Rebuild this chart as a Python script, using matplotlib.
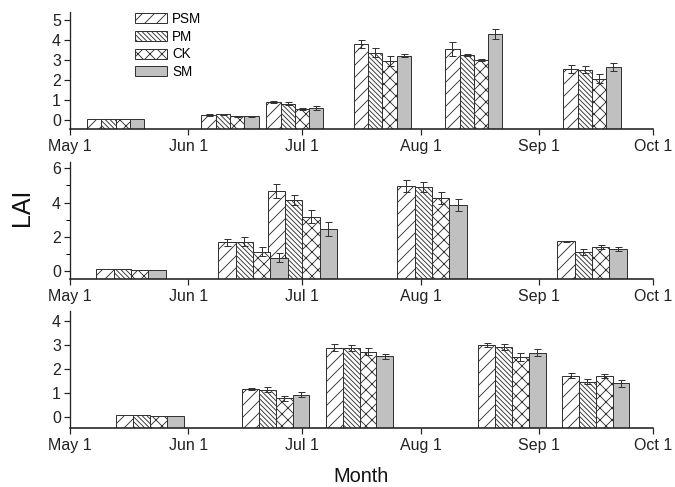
import datetime
import numpy as np
import matplotlib
matplotlib.use('Agg')
import matplotlib.pyplot as plt
import matplotlib.dates as mdates

plt.rcParams['font.family'] = ['Liberation Sans', 'DejaVu Sans']
plt.rcParams['hatch.linewidth'] = 0.9

YEAR = 2000
treatments = ['PSM', 'PM', 'CK', 'SM']
hatches = ['//', '\\\\\\\\\\', 'xx', '']
faces = ['white', 'white', 'white', '#c0c0c0']

# panel 1 (top)
dates_1 = ['05-13', '06-12', '06-29', '07-22', '08-15', '09-15']
lai_1 = {
    'PSM': [0.05, 0.25, 0.90, 3.82, 3.58, 2.58],
    'PM':  [0.05, 0.28, 0.82, 3.37, 3.28, 2.52],
    'CK':  [0.05, 0.18, 0.57, 2.95, 3.00, 2.07],
    'SM':  [0.05, 0.18, 0.62, 3.23, 4.32, 2.68],
}
err_1 = {
    'PSM': [0.0, 0.03, 0.03, 0.20, 0.35, 0.20],
    'PM':  [0.0, 0.03, 0.06, 0.22, 0.05, 0.18],
    'CK':  [0.0, 0.02, 0.05, 0.25, 0.05, 0.23],
    'SM':  [0.0, 0.02, 0.10, 0.08, 0.25, 0.20],
}

# panel 2 (middle)
dates_2 = ['05-17', '06-18', '07-01', '08-04', '09-15']
lai_2 = {
    'PSM': [0.12, 1.68, 4.68, 4.97, 1.73],
    'PM':  [0.10, 1.72, 4.13, 4.89, 1.11],
    'CK':  [0.07, 1.13, 3.18, 4.25, 1.42],
    'SM':  [0.07, 0.78, 2.44, 3.86, 1.29],
}
err_2 = {
    'PSM': [0.0, 0.20, 0.40, 0.34, 0.05],
    'PM':  [0.0, 0.25, 0.30, 0.30, 0.15],
    'CK':  [0.0, 0.25, 0.40, 0.35, 0.12],
    'SM':  [0.0, 0.25, 0.40, 0.37, 0.10],
}

# panel 3 (bottom)
dates_3 = ['05-22', '06-24', '07-16', '08-25', '09-16']
lai_3 = {
    'PSM': [0.05, 1.15, 2.90, 3.01, 1.72],
    'PM':  [0.05, 1.13, 2.87, 2.91, 1.47],
    'CK':  [0.04, 0.77, 2.73, 2.52, 1.71],
    'SM':  [0.04, 0.92, 2.54, 2.69, 1.40],
}
err_3 = {
    'PSM': [0.0, 0.05, 0.15, 0.08, 0.10],
    'PM':  [0.0, 0.10, 0.12, 0.13, 0.10],
    'CK':  [0.0, 0.10, 0.15, 0.17, 0.10],
    'SM':  [0.0, 0.10, 0.10, 0.14, 0.15],
}

month_ticks = ['05-01', '06-01', '07-01', '08-01', '09-01', '10-01']
month_labels = ['May 1', 'Jun 1', 'Jul 1', 'Aug 1', 'Sep 1', 'Oct 1']


def to_num(md):
    m, d = md.split('-')
    return mdates.date2num(datetime.date(YEAR, int(m), int(d)))


panels = [
    # dates, values, errors, bar width (days), ylim, yticks, minor, axes box
    (dates_1, lai_1, err_1, 3.75, (-0.45, 5.4), [0, 1, 2, 3, 4, 5], None, [0.1037, 0.735, 0.8637, 0.240]),
    (dates_2, lai_2, err_2, 4.55, (-0.47, 6.39), [0, 2, 4, 6], [1, 3, 5], [0.1037, 0.427, 0.8637, 0.241]),
    (dates_3, lai_3, err_3, 4.4, (-0.49, 4.45), [0, 1, 2, 3, 4], None, [0.1037, 0.1205, 0.8637, 0.2415]),
]

fig = plt.figure(figsize=(675 / 72, 487 / 72), dpi=72)

for k, (dates, vals, errs, w, ylim, yt, ymin, pos) in enumerate(panels):
    ax = fig.add_axes(pos)
    x = np.array([to_num(d) for d in dates])
    base = ylim[0]
    for i, t in enumerate(treatments):
        xi = x + (i - 1.5) * w
        # bars start at the axis line, not at zero
        ax.bar(xi, np.array(vals[t]) - base, bottom=base, width=w, color=faces[i],
               edgecolor='#333333', hatch=hatches[i], linewidth=1.0, label=t, zorder=2)
        ax.errorbar(xi, vals[t], yerr=errs[t], fmt='none', ecolor='#333333',
                    elinewidth=1.0, capsize=3.5, capthick=1.0, zorder=3)
    ax.set_xlim(to_num(month_ticks[0]), to_num(month_ticks[-1]))
    ax.set_ylim(*ylim)
    ax.set_xticks([to_num(m) for m in month_ticks])
    ax.set_xticklabels(month_labels)
    ax.set_yticks(yt)
    if ymin:
        ax.set_yticks(ymin, minor=True)
    ax.spines['top'].set_visible(False)
    ax.spines['right'].set_visible(False)
    ax.spines['left'].set_linewidth(1.3)
    ax.spines['bottom'].set_linewidth(1.6)
    ax.spines['left'].set_color('#222222')
    ax.spines['bottom'].set_color('#222222')
    ax.spines['bottom'].set_zorder(4)
    ax.tick_params(axis='both', which='major', direction='out', length=6,
                   width=1.2, labelsize=16, colors='#222222', pad=3)
    ax.tick_params(axis='y', which='minor', direction='out', length=4, width=1.0)
    ax.tick_params(axis='x', pad=4)

    if k == 0:
        ax.legend(loc='upper left', bbox_to_anchor=(135 / 675, 1 - 12 / 487),
                  bbox_transform=fig.transFigure, frameon=False, fontsize=13.5,
                  handlelength=2.4, handleheight=0.75, labelspacing=0.27,
                  handletextpad=0.35, borderpad=0, borderaxespad=0)

fig.text(22 / 675, 1 - 207 / 487, 'LAI', rotation=90, fontsize=25,
         ha='center', va='center', color='#111111')
fig.text(361 / 675, 1 - 476 / 487, 'Month', fontsize=20,
         ha='center', va='center', color='#111111')

fig.savefig('out.png', dpi=72)
